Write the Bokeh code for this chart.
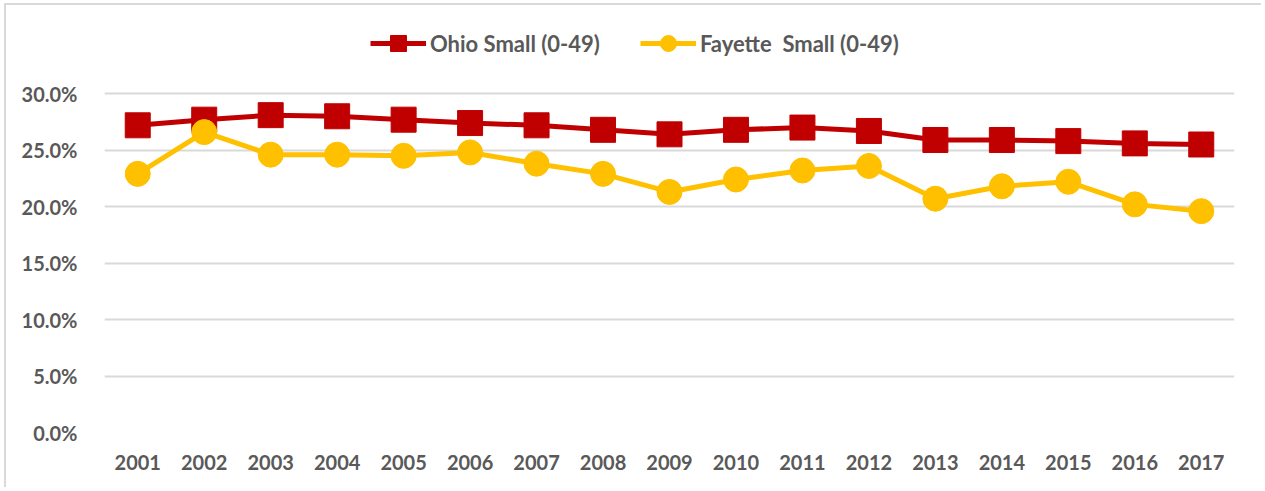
from bokeh.plotting import figure
from bokeh.models import Legend, LegendItem, FixedTicker, PrintfTickFormatter
from bokeh.embed import file_html
from bokeh.resources import INLINE

years = [str(y) for y in range(2001, 2018)]
ohio_small = [27.2, 27.7, 28.1, 28.0, 27.7, 27.4, 27.2, 26.8, 26.4, 26.8, 27.0, 26.7, 25.9, 25.9, 25.8, 25.6, 25.5]
fayette_small = [22.9, 26.6, 24.6, 24.6, 24.5, 24.8, 23.8, 22.9, 21.3, 22.4, 23.2, 23.6, 20.7, 21.8, 22.2, 20.2, 19.6]
y_ticks = [0, 5, 10, 15, 20, 25, 30]

RED = "#C00000"
YEL = "#FFC000"
GRAY = "#595959"
FONT = "Lato"

# frame spans 0..30 over 338px; extra headroom holds the legend
Y_END = 30 + 78 * 30 / 338

p = figure(x_range=years, y_range=(0, Y_END), width=1257, height=484,
           output_backend="svg", toolbar_location=None,
           min_border_left=98, min_border_right=29, min_border_top=10, min_border_bottom=57)
p.outline_line_color = None
p.styles = {"border-top": "2px solid #d9d9d9", "border-left": "2px solid #d9d9d9",
            "margin-left": "4px", "margin-top": "3px"}

r1 = p.line(years, ohio_small, line_color=RED, line_width=5)
m1 = p.scatter(years, ohio_small, marker="square", size=25, fill_color=RED, line_color=RED)
r2 = p.line(years, fayette_small, line_color=YEL, line_width=5)
m2 = p.scatter(years, fayette_small, marker="circle", size=25, fill_color=YEL, line_color=YEL)

p.xgrid.grid_line_color = None
p.ygrid.grid_line_color = "#d9d9d9"
p.ygrid.grid_line_width = 2
p.ygrid.ticker = FixedTicker(ticks=y_ticks)

p.yaxis.ticker = FixedTicker(ticks=y_ticks)
p.yaxis.formatter = PrintfTickFormatter(format="%.1f%%")
for ax in (p.xaxis[0], p.yaxis[0]):
    ax.axis_line_color = None
    ax.major_tick_line_color = None
    ax.minor_tick_line_color = None
    ax.major_label_text_font = FONT
    ax.major_label_text_font_style = "bold"
    ax.major_label_text_font_size = "20px"
    ax.major_label_text_color = GRAY
p.xaxis.major_label_standoff = 16
p.yaxis.major_label_standoff = 21

legend = Legend(items=[LegendItem(label="Ohio Small (0-49)", renderers=[r1, m1]),
                       LegendItem(label="Fayette  Small (0-49)", renderers=[r2, m2])],
                orientation="horizontal", location=(266, 369),
                glyph_width=56, glyph_height=40, label_standoff=4, spacing=40,
                label_text_font=FONT, label_text_font_style="bold",
                label_text_font_size="22px", label_text_color=GRAY,
                background_fill_alpha=0, border_line_color=None, padding=0, margin=0)
p.add_layout(legend, "center")

open("out.html", "w").write(file_html(p, INLINE))
